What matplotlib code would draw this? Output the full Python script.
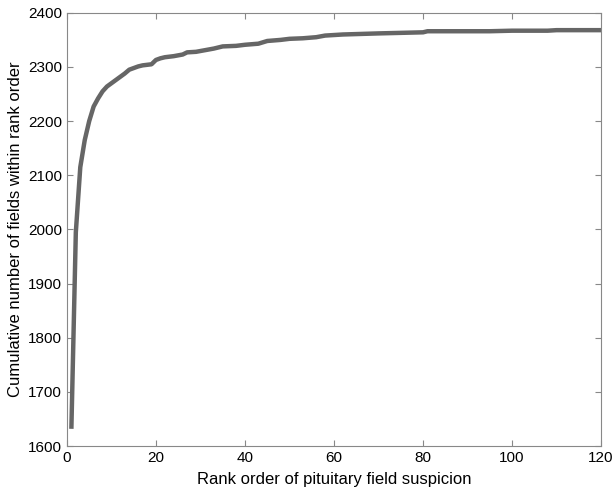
import matplotlib.pyplot as plt

plt.rcParams['font.family'] = ['Liberation Sans', 'DejaVu Sans']

# rank order and cumulative field counts
rank = [1, 2, 3, 4, 5, 6, 7, 8, 9, 10, 11, 12, 13, 14, 15, 16, 17, 18, 19, 20,
        21, 22, 24, 26, 27, 29, 31, 33, 35, 38, 40, 43, 45, 48, 50, 53, 56,
        58, 62, 66, 70, 75, 80, 81, 90, 95, 100, 108, 110, 120]
cumulative = [1632, 1995, 2115, 2165, 2200, 2227, 2242, 2255, 2264, 2270, 2276,
              2282, 2288, 2295, 2298, 2301, 2303, 2304, 2305, 2313, 2316, 2318,
              2320, 2323, 2327, 2328, 2331, 2334, 2338, 2339, 2341, 2343, 2348,
              2350, 2352, 2353, 2355, 2358, 2360, 2361, 2362, 2363, 2364, 2366,
              2366, 2366, 2367, 2367, 2368, 2368]

fig = plt.figure(figsize=(6.14, 4.93), dpi=100)
ax = fig.add_axes([0.109, 0.095, 0.870, 0.879])
ax.plot(rank, cumulative, color='#666666', linewidth=3.2, solid_capstyle='butt')

ax.set_xlim(0, 120)
ax.set_ylim(1600, 2400)
ax.set_xticks(range(0, 121, 20))
ax.set_yticks(range(1600, 2401, 100))
ax.tick_params(direction='in', top=True, right=True, labelsize=11, length=4,
               color='#888888')
for s in ax.spines.values():
    s.set_color('#888888')

ax.set_xlabel('Rank order of pituitary field suspicion', fontsize=12, labelpad=5)
ax.set_ylabel('Cumulative number of fields within rank order', fontsize=12)

fig.savefig('out.png', dpi=100)
